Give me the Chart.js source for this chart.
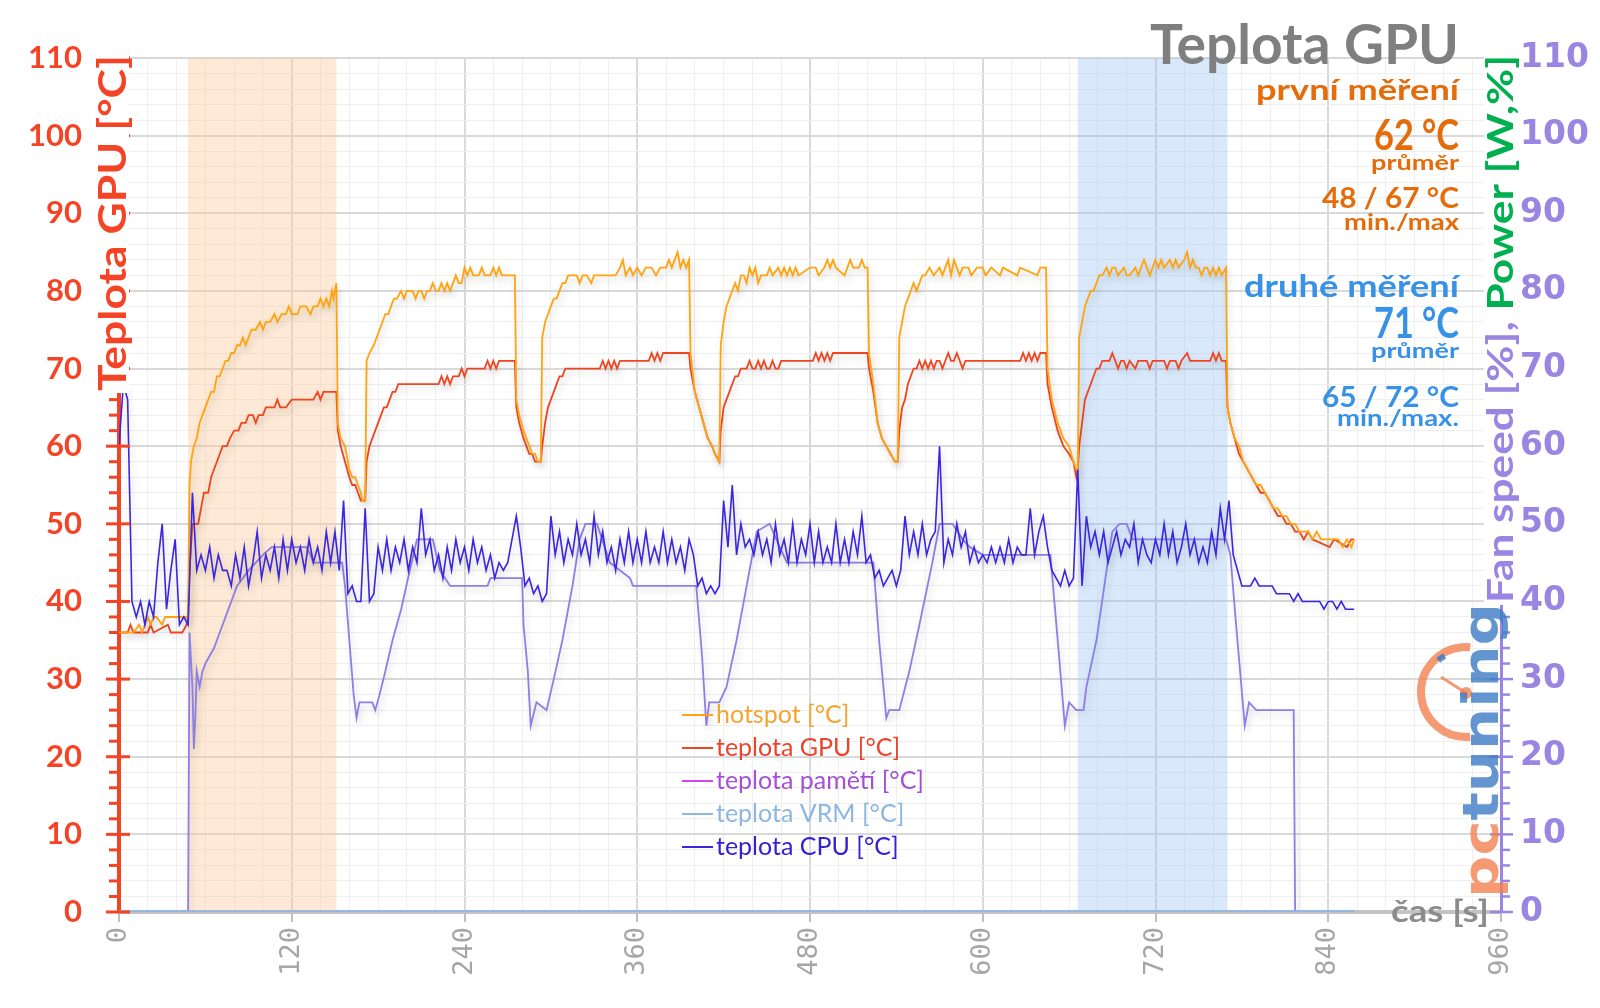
<!DOCTYPE html>
<html><head><meta charset="utf-8">
<script src="https://cdn.jsdelivr.net/npm/chart.js@4.4.1/dist/chart.umd.min.js"></script>
<style>html,body{margin:0;padding:0;background:#fff;overflow:hidden}#wrap{width:1600px;height:1008px}</style>
</head><body><div id="wrap"><canvas id="c" width="1600" height="1008"></canvas></div>
<script>
// ---------- DATA ----------
const seriesNames = ['hotspot [°C]', 'teplota GPU [°C]', 'teplota pamětí [°C]', 'teplota VRM [°C]', 'teplota CPU [°C]'];
const fanName = 'Fan speed [%]';
const chartTitle = 'Teplota GPU';
const yTitle = 'Teplota GPU [°C]';
const y2TitleA = 'Fan speed [%], ';
const y2TitleB = 'Power [W,%]';
const xTitle = 'čas [s]';
const firstRun = ['první měření', '62 °C', 'průměr', '48 / 67 °C', 'min./max'];
const secondRun = ['druhé měření', '71 °C', 'průměr', '65 / 72 °C', 'min./max.'];
const xMax = 960, xMajor = 120, xMinor = 20;
const yMax = 110, yMajor = 10, yMinor = 2;
const bandFirst = [48, 151];
const bandSecond = [666, 770];

// [time s, value]
const hotspot = [[0,36],[10,36],[14,37],[16,36],[18,37],[20,38],[22,37],[24,38],[26,38],[30,37],[32,38],[36,38],[40,38],[48,38],
[49,55],[50,58],[52,60],[54,61],[56,63],[58,64],[60,65],[62,66],[64,67],[66,67],[68,69],[70,69],[72,70],[74,71],[76,71],[78,72],[80,72],[82,73],[84,73],[86,74],[88,73],[90,74],[92,75],[95,75],[98,76],[100,75],[102,76],[105,76],[108,77],[110,76],[113,77],[116,77],[118,78],[120,77],[124,77],[126,78],[130,78],[133,77],[135,78],[138,78],[140,79],[142,78],[144,79],[146,78],[148,80],[149,79],[151,81],
[152,63],[154,61],[157,60],[160,57],[162,56],[164,56],[166,55],[168,54],[169,53],[171,53],
[172,71],[174,72],[177,73],[179,74],[181,75],[183,76],[185,77],[187,77],[189,78],[191,79],[193,79],[196,80],[198,79],[200,80],[204,80],[206,79],[208,80],[210,80],[212,79],[214,80],[216,80],[218,81],[220,80],[222,80],[224,81],[226,80],[228,81],[230,80],[232,81],[234,82],[236,81],[238,81],[240,83],[242,82],[244,83],[246,82],[250,82],[252,83],[254,82],[258,82],[260,83],[262,82],[264,83],[266,82],[270,82],[275,82],
[276,66],[278,64],[281,62],[283,61],[285,60],[287,59],[289,59],[291,58],[293,58],
[294,74],[296,76],[298,77],[300,78],[302,79],[304,79],[306,80],[308,81],[310,81],[312,82],[315,82],[318,82],[320,81],[322,82],[325,82],[328,81],[330,82],[340,82],[345,82],[348,83],[350,84],[352,82],[355,83],[357,82],[360,83],[363,82],[366,83],[370,83],[373,82],[376,83],[380,83],[382,84],[384,83],[386,84],[388,85],[390,83],[392,84],[394,83],[396,84],
[397,72],[400,67],[403,65],[406,63],[409,61],[412,60],[414,59],[417,58],
[418,73],[420,76],[422,78],[424,79],[426,80],[428,81],[430,80],[432,82],[434,82],[436,81],[438,83],[440,82],[442,83],[444,81],[446,82],[450,82],[452,83],[454,82],[458,83],[460,82],[462,83],[464,82],[466,83],[468,82],[470,83],[472,82],[480,83],[484,83],[486,82],[490,83],[492,84],[494,83],[496,84],[498,83],[504,82],[506,83],[508,84],[510,83],[514,83],[516,84],[518,83],[520,83],
[521,72],[524,68],[527,63],[530,61],[533,60],[536,59],[539,58],[541,58],
[542,74],[544,76],[546,78],[548,79],[550,80],[552,81],[554,80],[556,81],[558,82],[560,82],[563,83],[566,82],[570,83],[572,82],[574,83],[576,84],[578,82],[580,84],[582,83],[584,82],[586,83],[590,83],[592,82],[596,83],[600,83],[602,82],[606,83],[612,82],[614,83],[624,82],[626,83],[638,82],[640,83],[644,83],
[645,70],[648,66],[652,63],[656,61],[660,60],[663,58],[665,57],[666,57],
[667,74],[669,76],[671,78],[673,79],[675,80],[677,80],[679,81],[681,82],[683,82],[686,83],[688,82],[690,83],[692,83],[694,82],[698,83],[700,82],[702,82],[706,83],[708,82],[710,83],[712,84],[714,83],[716,82],[718,83],[720,84],[722,83],[724,84],[726,83],[730,84],[732,83],[734,84],[736,83],[740,84],[742,85],[744,83],[746,84],[748,83],[750,83],[752,82],[754,83],[756,83],[758,82],[760,83],[762,82],[764,83],[766,82],[769,83],
[770,65],[772,63],[775,61],[778,60],[781,58],[784,57],[787,56],[790,55],[793,55],[796,54],[799,53],[802,52],[805,52],[808,51],[811,51],[814,50],[817,50],[820,49],[823,49],[826,49],[829,48],[832,49],[835,48],[838,48],[844,48],[847,48],[850,47],[853,48],[856,47],[858,48]];

const gpuTemp = [[0,36],[6,36],[8,37],[10,36],[20,36],[22,37],[24,36],[34,37],[36,36],[44,36],[47,37],[48,38],
[49,44],[51,50],[55,50],[57,52],[59,54],[62,54],[64,56],[66,57],[68,58],[70,59],[72,60],[75,60],[77,61],[80,62],[83,62],[85,63],[88,63],[90,64],[93,64],[95,63],[97,64],[100,64],[102,65],[108,65],[110,66],[112,65],[116,65],[120,66],[135,66],[138,67],[140,66],[142,67],[151,67],
[152,62],[154,60],[157,58],[160,56],[162,55],[164,55],[166,54],[168,53],[171,53],
[172,58],[174,60],[176,61],[178,62],[180,63],[182,64],[184,65],[186,65],[188,66],[190,67],[192,67],[194,68],[222,68],[224,69],[226,68],[228,69],[230,68],[232,69],[236,69],[238,70],[240,69],[242,70],[254,70],[256,71],[258,70],[260,71],[262,70],[264,71],[275,71],
[276,65],[278,63],[281,61],[283,60],[285,59],[287,59],[289,58],[293,58],
[294,60],[296,63],[298,65],[300,66],[302,67],[304,68],[306,69],[308,69],[310,70],[334,70],[336,71],[338,70],[340,71],[342,70],[344,71],[346,70],[348,71],[368,71],[370,72],[372,71],[374,72],[376,71],[378,72],[396,72],
[397,70],[400,67],[403,65],[406,63],[409,61],[412,60],[414,59],[417,58],
[418,62],[420,65],[422,66],[424,67],[426,68],[428,69],[430,69],[432,70],[436,70],[438,71],[440,70],[442,70],[444,71],[446,70],[448,71],[450,70],[452,70],[454,71],[456,70],[458,70],[460,71],[482,71],[484,72],[486,71],[488,72],[490,71],[492,72],[494,71],[496,72],[520,72],
[521,70],[524,67],[527,63],[530,61],[533,60],[536,59],[539,58],[541,58],
[542,62],[544,65],[546,66],[548,68],[550,69],[552,70],[554,70],[556,71],[558,70],[560,71],[562,70],[564,71],[566,70],[568,71],[570,71],[572,70],[574,71],[576,72],[578,71],[580,71],[582,72],[584,71],[586,70],[588,71],[626,71],[628,72],[630,71],[632,72],[634,71],[636,72],[638,71],[640,72],[644,72],
[645,68],[648,65],[652,62],[656,60],[660,59],[663,58],[665,56],[666,57],
[667,60],[669,63],[671,66],[673,67],[675,68],[677,69],[679,70],[681,70],[683,71],[688,71],[690,72],[692,71],[694,70],[696,71],[698,71],[700,70],[702,71],[706,70],[708,71],[714,71],[716,70],[718,71],[726,71],[728,70],[730,71],[734,71],[736,70],[738,71],[742,72],[744,71],[758,71],[760,72],[762,71],[764,72],[766,71],[769,71],
[770,65],[772,63],[775,61],[778,59],[781,58],[784,57],[787,56],[790,55],[793,54],[796,54],[799,53],[802,52],[805,51],[808,51],[811,50],[814,50],[817,49],[820,49],[823,48],[826,49],[829,48],[841,47],[844,48],[853,47],[856,48],[858,48]];

const memTemp = [];
const vrmTemp = [[0,0],[858,0]];

const fanSpeed = [[0,0],[48,0],[49,36],[51,29],[52,21],[53,25],[54,31],[56,29],[58,31],[60,32],[63,33],[66,34],[70,36],[74,38],[78,40],[82,42],[86,43],[90,44],[95,45],[100,46],[106,47],[130,47],[133,46],[135,45],[155,45],[157,42],[160,35],[163,28],[165,25],[167,27],[176,27],[178,26],[181,28],[185,31],[190,35],[196,39],[202,44],[207,48],[218,48],[223,44],[230,42],[256,42],[258,43],[280,43],[281,37],[284,31],[286,24],[290,27],[297,26],[302,30],[308,35],[315,42],[320,48],[324,50],[332,50],[341,45],[348,44],[355,43],[357,42],[401,42],[405,33],[408,24],[410,27],[417,27],[422,29],[429,35],[436,42],[443,49],[452,50],[459,47],[464,45],[524,45],[528,35],[533,25],[535,26],[542,26],[549,31],[556,37],[565,45],[570,50],[579,50],[586,48],[591,47],[600,46],[647,46],[653,33],[657,24],[660,27],[665,26],[670,26],[672,29],[679,35],[686,44],[690,49],[695,50],[700,50],[704,48],[769,48],[772,46],[776,37],[782,24],[785,27],[790,26],[816,26],[817,0],[858,0]];

// CPU temperature sampled every cpuStep seconds from 0 s
const cpuStep = 3;
const cpuTemp = [
60,68,66,40,38,40,37,40,38,45,
50,39,44,48,37,38,37,54,44,46,
44,47,43,46,44,44,42,46,43,47,
42,45,49,43,46,44,47,43,48,44,
48,45,47,44,48,45,47,44,49,45,
49,44,53,41,42,40,40,52,40,41,
47,44,48,44,47,45,48,44,47,45,
52,46,48,44,46,43,47,44,48,45,
47,44,48,45,47,44,46,43,45,44,
45,48,51,47,42,43,41,42,40,41,
51,46,49,45,48,46,50,46,48,45,
51,46,49,45,47,44,48,45,49,45,
48,45,49,45,47,45,49,45,48,45,
47,44,48,46,42,43,41,42,41,42,
53,47,55,46,50,47,48,46,49,46,
48,45,50,46,48,45,50,45,48,46,
50,45,49,45,47,45,50,45,48,45,
49,46,51,45,46,43,44,42,43,44,
42,44,51,46,49,46,50,46,48,49,
60,45,48,46,50,47,49,45,47,45,
46,45,47,45,47,45,48,45,47,46,
46,52,46,49,51,47,44,43,42,44,
42,43,57,42,51,47,49,46,49,45,
47,49,46,48,47,50,45,48,46,45,
48,46,50,46,49,45,47,50,46,48,
45,47,45,49,46,52,48,53,46,44,
42,42,42,43,42,42,42,42,41,41,
41,41,40,41,40,40,40,40,40,39,
40,40,39,40,39,39,39];

// ---------- STYLE ----------
const RED = '#f54325', PURPLE = '#9a86e2', GRAY = '#8c8c8c';
const FONT = 'Lato, "Open Sans", sans-serif';
const lineColors = ['#ffa40f', '#ef4621', '#d046ee', '#8fb7e2', '#3b26e0'];
const legendTextColors = ['#f3a533', '#e9452d', '#a64fd6', '#8db6e0', '#3421d2'];
const fanColor = '#8e7ee6';

const toXY = arr => arr.map(p => ({x: p[0], y: p[1]}));

function fitText(ctx, text, x, y, px, weight, width, color, family) {
  ctx.save();
  ctx.font = weight + ' ' + px + 'px ' + (family || FONT);
  const w = ctx.measureText(text).width;
  ctx.fillStyle = color;
  ctx.textBaseline = 'alphabetic';
  ctx.textAlign = 'right';
  ctx.translate(x, y);
  ctx.scale(width / w, 1);
  ctx.fillText(text, 0, 0);
  ctx.restore();
}
// rotated text reading bottom->top, starting at startY going up, baseline at bx
function rotText(ctx, parts, bx, startY, endY, px, weight, family) {
  ctx.save();
  ctx.font = weight + ' ' + px + 'px ' + (family || FONT);
  let total = 0;
  parts.forEach(p => total += ctx.measureText(p[0]).width);
  const sx = (startY - endY) / total;
  ctx.translate(bx, startY);
  ctx.rotate(-Math.PI / 2);
  ctx.scale(sx, 1);
  ctx.textBaseline = 'alphabetic';
  ctx.textAlign = 'left';
  let off = 0;
  parts.forEach(p => { ctx.fillStyle = p[1]; ctx.fillText(p[0], off, 0); off += ctx.measureText(p[0]).width; });
  ctx.restore();
}

const bandsPlugin = {
  id: 'bands',
  beforeDatasetsDraw(chart) {
    const {ctx, chartArea: a, scales: {x}} = chart;
    ctx.save();
    ctx.fillStyle = 'rgba(250,200,150,0.40)';
    let x0 = x.getPixelForValue(bandFirst[0]), x1 = x.getPixelForValue(bandFirst[1]);
    ctx.fillRect(x0, a.top, x1 - x0, a.bottom - a.top);
    ctx.fillStyle = 'rgba(150,195,245,0.36)';
    x0 = x.getPixelForValue(bandSecond[0]); x1 = x.getPixelForValue(bandSecond[1]);
    ctx.fillRect(x0, a.top, x1 - x0, a.bottom - a.top);
    ctx.restore();
  }
};

const shadowPlugin = {
  id: 'shadow',
  beforeDatasetDraw(chart, args) {
    const ctx = chart.ctx;
    ctx.save();
    if (args.index !== 3) {
      ctx.shadowColor = 'rgba(0,0,0,0.18)';
      ctx.shadowBlur = 7;
      ctx.shadowOffsetX = 2;
      ctx.shadowOffsetY = 4;
    }
  },
  afterDatasetDraw(chart) { chart.ctx.restore(); }
};

const overlayPlugin = {
  id: 'overlay',
  afterDraw(chart) {
    const {ctx, chartArea: a, scales: {y, y2}} = chart;
    const L = a.left, R = a.right;
    ctx.save();
    // left axis ticks
    ctx.strokeStyle = RED; ctx.lineWidth = 3;
    for (let v = 0; v <= yMax; v += yMinor) {
      const py = y.getPixelForValue(v);
      ctx.beginPath();
      if (v % yMajor === 0) { ctx.moveTo(L - 13, py); ctx.lineTo(L + 11, py); }
      else { ctx.moveTo(L - 10, py); ctx.lineTo(L, py); }
      ctx.stroke();
    }
    // right axis ticks
    ctx.strokeStyle = PURPLE; ctx.lineWidth = 2.5;
    for (let v = 0; v <= yMax; v += yMinor) {
      const py = y2.getPixelForValue(v);
      ctx.beginPath();
      if (v % yMajor === 0) { ctx.moveTo(R - 11, py); ctx.lineTo(R + 12, py); }
      else { ctx.moveTo(R, py); ctx.lineTo(R + 9, py); }
      ctx.stroke();
    }
    ctx.restore();

    // legend
    ctx.save();
    ctx.font = '25px ' + FONT;
    ctx.textBaseline = 'middle';
    seriesNames.forEach((name, i) => {
      const ly = 715 + i * 33;
      ctx.strokeStyle = lineColors[i]; ctx.lineWidth = 2;
      ctx.beginPath(); ctx.moveTo(682, ly); ctx.lineTo(713, ly); ctx.stroke();
      ctx.fillStyle = legendTextColors[i];
      ctx.fillText(name, 716, ly);
    });
    ctx.restore();

    // title block
    const TX = 1459;
    fitText(ctx, chartTitle, TX, 64, 56, 'bold', 309, '#7f7f7f');
    const orange = '#e46c0a', blue = '#3791e6';
    const fb = [100, 150, 170, 208, 230], fp = [28, 42, 21, 28, 23], fw = [203, 85, 88, 137, 115];
    firstRun.forEach((t, i) => fitText(ctx, t, TX, fb[i], fp[i], 'bold', fw[i], orange));
    const sb = [297, 338, 358, 407, 426], sp = [30, 42, 21, 28, 23], sw = [215, 85, 88, 137, 122];
    secondRun.forEach((t, i) => fitText(ctx, t, TX, sb[i], sp[i], 'bold', sw[i], blue));

    // axis titles
    ctx.save();
    ctx.fillStyle = '#ffffff';
    ctx.fillRect(96, 52, 33, 341);
    ctx.fillRect(R - 17, 52, 36, 553);
    ctx.restore();
    rotText(ctx, [[yTitle, RED]], 126, 391, 55, 38, 'bold');
    rotText(ctx, [[y2TitleA, PURPLE], [y2TitleB, '#00b050']], R + 12, 603, 55, 36, 'bold');
    fitText(ctx, xTitle, 1489, 922, 31, 'bold', 98, GRAY);

    // logo
    ctx.save();
    ctx.globalAlpha = 0.8;
    const cx = 1466, cy = 692;
    ctx.strokeStyle = '#f2814f'; ctx.lineWidth = 8; ctx.lineCap = 'butt';
    ctx.beginPath(); ctx.arc(cx, cy, 45, 0.47 * Math.PI, 1.53 * Math.PI); ctx.stroke();
    ctx.strokeStyle = '#3c7cc6'; ctx.lineWidth = 6;
    ctx.beginPath(); ctx.arc(cx, cy, 42, 1.27 * Math.PI, 1.33 * Math.PI); ctx.stroke();
    ctx.strokeStyle = '#f2814f'; ctx.lineWidth = 3;
    ctx.beginPath(); ctx.moveTo(1441, 677); ctx.lineTo(cx, cy + 1); ctx.stroke();
    ctx.fillStyle = '#f2814f';
    ctx.beginPath(); ctx.arc(cx, cy + 1, 6, 0, 2 * Math.PI); ctx.fill();
    rotText(ctx, [['pc', '#f2814f'], ['tuning', '#3c7cc6']], 1498, 898, 603, 50, 'bold', '"DejaVu Sans", sans-serif');
    ctx.restore();
  }
};

const majorX = v => v % xMajor === 0;
const majorY = v => v % yMajor === 0;

new Chart(document.getElementById('c').getContext('2d'), {
  type: 'line',
  data: {
    datasets: [
      {label: seriesNames[0], data: toXY(hotspot), borderColor: lineColors[0], borderWidth: 1.8, order: 1},
      {label: seriesNames[1], data: toXY(gpuTemp), borderColor: lineColors[1], borderWidth: 1.8, order: 2},
      {label: seriesNames[2], data: toXY(memTemp), borderColor: lineColors[2], borderWidth: 1.8, order: 5},
      {label: seriesNames[3], data: toXY(vrmTemp), borderColor: lineColors[3], borderWidth: 3.5, order: 3},
      {label: seriesNames[4], data: cpuTemp.map((v, i) => ({x: i * cpuStep, y: v})), borderColor: lineColors[4], borderWidth: 1.6, order: 0},
      {label: fanName, data: toXY(fanSpeed), borderColor: fanColor, borderWidth: 1.8, yAxisID: 'y2', order: 4}
    ]
  },
  options: {
    responsive: false, animation: false, devicePixelRatio: 1,
    layout: {padding: {top: 58, left: 0, right: 0, bottom: 0}, autoPadding: false},
    elements: {point: {radius: 0}, line: {tension: 0, fill: false}},
    plugins: {legend: {display: false}, tooltip: {enabled: false}},
    scales: {
      x: {
        type: 'linear', min: 0, max: xMax,
        afterFit(s) { s.height = 96; },
        ticks: {stepSize: xMinor, autoSkip: false, minRotation: 90, maxRotation: 90, padding: 5,
          color: '#a6a6a6', font: {family: '"DejaVu Sans Mono", monospace', size: 27},
          callback: v => majorX(v) ? String(v) : ''},
        grid: {
          color: c => (c.tick && majorX(c.tick.value)) ? '#d9d9d9' : '#efefef',
          lineWidth: c => (c.tick && majorX(c.tick.value)) ? 2 : 1,
          tickLength: 10,
          tickColor: c => (c.tick && majorX(c.tick.value)) ? '#bfbfbf' : 'rgba(0,0,0,0)',
          tickWidth: 2
        },
        border: {color: '#c3c3c3', width: 4}
      },
      y: {
        position: 'left', min: 0, max: yMax,
        afterFit(s) { s.width = 119; },
        ticks: {stepSize: yMinor, autoSkip: false, padding: 37, color: RED,
          font: {family: FONT, weight: 'bold', size: 31},
          callback: v => majorY(v) ? String(v) : ''},
        grid: {drawTicks: false,
          color: c => (c.tick && majorY(c.tick.value)) ? '#d9d9d9' : '#efefef',
          lineWidth: c => (c.tick && majorY(c.tick.value)) ? 2 : 1},
        border: {color: RED, width: 4}
      },
      y2: {
        position: 'right', min: 0, max: yMax,
        afterFit(s) { s.width = 99; },
        ticks: {stepSize: yMinor, autoSkip: false, padding: 19, color: PURPLE,
          font: {family: '"DejaVu Sans", sans-serif', weight: 'bold', size: 33},
          callback: v => majorY(v) ? String(v) : ''},
        grid: {drawOnChartArea: false, drawTicks: false},
        border: {color: PURPLE, width: 3}
      }
    }
  },
  plugins: [bandsPlugin, shadowPlugin, overlayPlugin]
});
</script>
</body></html>
